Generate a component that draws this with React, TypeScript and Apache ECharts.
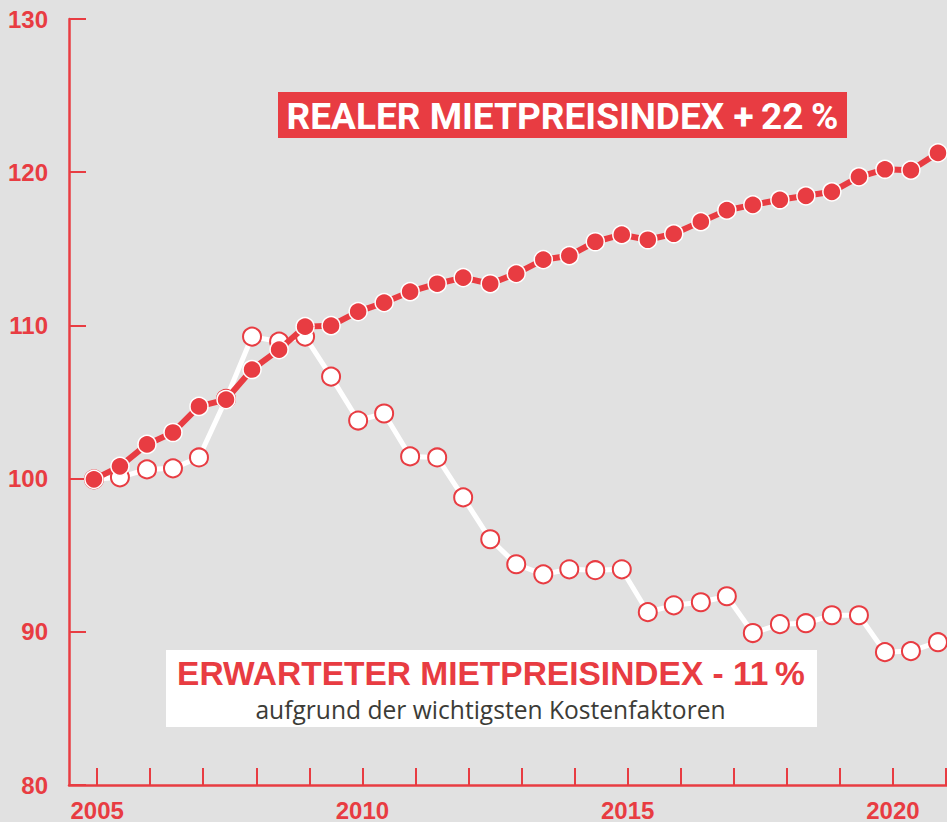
import React, { useEffect, useRef } from "react";
import * as echarts from "echarts";

// Half-year observation dates (decimal years)
const periods = [
  2004.94, 2005.43, 2005.94, 2006.43, 2006.92, 2007.43, 2007.92, 2008.43, 2008.92, 2009.41, 2009.92,
  2010.41, 2010.9, 2011.41, 2011.9, 2012.41, 2012.9, 2013.41, 2013.9, 2014.39, 2014.89,
  2015.38, 2015.87, 2016.38, 2016.87, 2017.36, 2017.87, 2018.36, 2018.85, 2019.36, 2019.85,
  2020.34, 2020.85,
];

// Realer Mietpreisindex
const realIndex = [
  99.95, 100.8, 102.23, 103.01, 104.71, 105.16, 107.12, 108.42, 109.92, 109.98, 110.9,
  111.49, 112.2, 112.72, 113.12, 112.72, 113.38, 114.29, 114.55, 115.46, 115.92,
  115.59, 115.98, 116.77, 117.52, 117.87, 118.2, 118.46, 118.72, 119.7, 120.19,
  120.13, 121.26,
];

// Erwarteter Mietpreisindex
const expectedIndex = [
  99.95, 100.08, 100.6, 100.67, 101.38, 105.2, 109.27, 108.94, 109.27, 106.66, 103.79,
  104.25, 101.45, 101.38, 98.77, 96.04, 94.41, 93.75, 94.08, 94.02, 94.08,
  91.28, 91.73, 91.93, 92.32, 89.92, 90.5, 90.56, 91.08, 91.08, 88.67,
  88.74, 89.32,
];

const xTickYears = [2005, 2006, 2007, 2008, 2009, 2010, 2011, 2012, 2013, 2014, 2015, 2016, 2017, 2018, 2019, 2020, 2021];
const xLabelYears = [2005, 2010, 2015, 2020];

const realTitle = "REALER MIETPREISINDEX +\u200922\u2009%";
const expectedTitle = "ERWARTETER MIETPREISINDEX - 11\u2009%";
const expectedSubtitle = "aufgrund der wichtigsten Kostenfaktoren";

const RED = "#e83c42";
const BG = "#e1e1e1";

export default function App() {
  const ref = useRef<HTMLDivElement>(null);

  useEffect(() => {
    if (!ref.current) return;
    const chart = echarts.init(ref.current, null, { renderer: "svg" });
    const realData = periods.map((p, i) => [p, realIndex[i]]);
    const expData = periods.map((p, i) => [p, expectedIndex[i]]);

    chart.setOption({
      animation: false,
      backgroundColor: BG,
      grid: { left: 69, right: 0, top: 19, bottom: 36, containLabel: false },
      xAxis: {
        type: "value",
        min: 2004.47,
        max: 2021.02,
        splitLine: { show: false },
        axisLine: { show: true, lineStyle: { color: RED, width: 2.5 } },
        axisTick: {
          show: true,
          inside: true,
          length: 17,
          customValues: xTickYears,
          lineStyle: { color: RED, width: 2 },
        },
        axisLabel: {
          customValues: xLabelYears,
          color: RED,
          fontSize: 24,
          fontWeight: "bold",
          fontFamily: "Liberation Sans, Arial, sans-serif",
          margin: 13,
          formatter: (v: number) => String(v),
        },
      },
      yAxis: {
        type: "value",
        min: 80,
        max: 130,
        interval: 10,
        splitLine: { show: false },
        axisLine: { show: true, lineStyle: { color: RED, width: 2.5 } },
        axisTick: { show: true, inside: true, length: 17, lineStyle: { color: RED, width: 2 } },
        axisLabel: {
          color: RED,
          fontSize: 24,
          fontWeight: "bold",
          fontFamily: "Liberation Sans, Arial, sans-serif",
          margin: 21,
        },
      },
      series: [
        {
          name: "Erwarteter Mietpreisindex",
          type: "line",
          data: expData,
          z: 2,
          symbol: "circle",
          symbolSize: 18,
          showAllSymbol: true,
          lineStyle: { color: "#ffffff", width: 5 },
          itemStyle: { color: "#ffffff", borderColor: RED, borderWidth: 2 },
        },
        {
          name: "Realer Mietpreisindex",
          type: "line",
          data: realData,
          z: 3,
          symbol: "circle",
          symbolSize: 18,
          showAllSymbol: true,
          lineStyle: { color: RED, width: 6 },
          itemStyle: { color: RED, borderColor: "#ffffff", borderWidth: 1.5 },
        },
      ],
      graphic: [
        {
          type: "group",
          z: 10,
          children: [
            { type: "rect", shape: { x: 278, y: 92, width: 569, height: 46 }, style: { fill: RED } },
            {
              type: "text",
              x: 562.5,
              y: 116,
              style: {
                text: realTitle,
                fill: "#ffffff",
                font: "bold 37px Roboto, sans-serif",
                align: "center",
                verticalAlign: "middle",
              },
            },
          ],
        },
        {
          type: "group",
          z: 10,
          children: [
            { type: "rect", shape: { x: 166, y: 650, width: 651, height: 77 }, style: { fill: "#ffffff" } },
            {
              type: "text",
              x: 491,
              y: 673,
              style: {
                text: expectedTitle,
                fill: RED,
                font: "bold 33.5px 'Liberation Sans', Arial, sans-serif",
                align: "center",
                verticalAlign: "middle",
              },
            },
            {
              type: "text",
              x: 490.5,
              y: 709,
              style: {
                text: expectedSubtitle,
                fill: "#3c3c37",
                font: "24.6px 'Open Sans', sans-serif",
                align: "center",
                verticalAlign: "middle",
              },
            },
          ],
        },
      ],
    });
    return () => chart.dispose();
  }, []);

  return (
    <div
      ref={ref}
      style={{ position: "fixed", left: 0, top: 0, width: 947, height: 822 }}
    />
  );
}
